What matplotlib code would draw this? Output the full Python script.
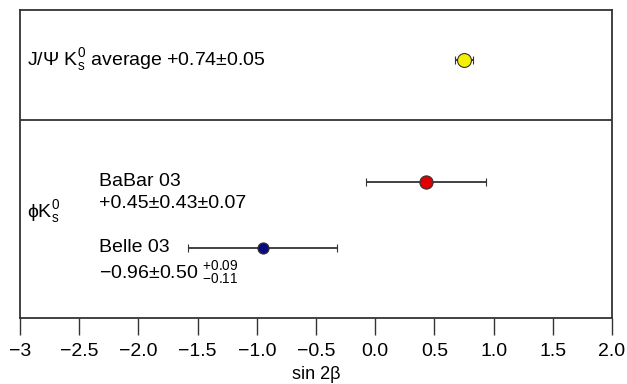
"""sin 2beta: J/Psi K_s average vs phi K_s measurements (BaBar 03, Belle 03)."""
import matplotlib

matplotlib.use("Agg")
import matplotlib.pyplot as plt

# values
labels = ["J/Ψ K$_\\mathregular{s}^\\mathregular{0}$ average +0.74±0.05", "BaBar 03", "Belle 03"]
results = ["", "+0.45±0.43±0.07", "−0.96±0.50 $^{+0.09}_{-0.11}$"]
group_label = "ϕK$_\\mathregular{s}^\\mathregular{0}$"
centres = [0.75, 0.43, -0.95]
errors = [0.08, 0.51, 0.63]
colours = ["#f5f000", "#e00000", "#0a0a80"]
xticks = [-3, -2.5, -2.0, -1.5, -1.0, -0.5, 0.0, 0.5, 1.0, 1.5, 2.0]
xticklabels = ["−3", "−2.5", "−2.0", "−1.5", "−1.0", "−0.5", "0.0", "0.5", "1.0", "1.5", "2.0"]

family = "Liberation Sans"
plt.rcParams["font.family"] = [family, "DejaVu Sans"]
plt.rcParams["mathtext.fontset"] = "custom"
plt.rcParams["mathtext.rm"] = family
plt.rcParams["mathtext.it"] = family
plt.rcParams["mathtext.sf"] = family

fig = plt.figure(figsize=(6.27, 3.84), dpi=100)
ax = fig.add_axes([0.032, 0.172, 0.944, 0.802])
ax.set_xlim(-3, 2.0)
ax.set_ylim(0, 1)

row_y = [0.838, 0.4425, 0.227]
sizes = [10, 9.5, 8]
for y, c, e, col, ms in zip(row_y, centres, errors, colours, sizes):
    ax.errorbar(c, y, xerr=e, fmt="o", ecolor="#333333", elinewidth=1.3,
                capsize=3, capthick=1.3, markersize=ms, markerfacecolor=col,
                markeredgecolor="#333333", markeredgewidth=0.8, zorder=3)
ax.axhline(0.643, color="#333333", lw=1.3)


def put(s, xp, yp, size=14):
    # position in pixels from the top-left of the figure
    fig.text(xp / 627, 1 - yp / 384, s, fontsize=size, va="center", ha="left")


put(labels[0], 27, 60)
put(labels[1], 99, 181)
put(results[1], 99, 204)
put(labels[2], 99, 248)
put(results[2], 99, 273)
put(group_label, 27, 212)

ax.set_yticks([])
ax.set_xticks(xticks)
ax.set_xticklabels(xticklabels, fontsize=14)
ax.tick_params(axis="x", direction="out", length=12, width=1, color="#333333", pad=6)
for s in ax.spines.values():
    s.set_color("#333333")
    s.set_linewidth(1.3)
ax.set_xlabel("sin 2β", fontsize=13, labelpad=4)

fig.savefig("out.png", dpi=100)
